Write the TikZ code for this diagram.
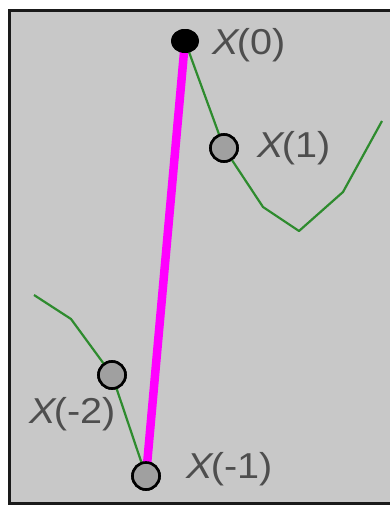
\documentclass[tikz,border=0pt]{standalone}
\usepackage{fontspec}
\setmainfont{Liberation Sans}
\newfontfamily\lblfont[FakeStretch=1.1]{Liberation Sans}
\usetikzlibrary{shapes.geometric}
\definecolor{bggray}{HTML}{C8C8C8}
\definecolor{framegray}{HTML}{1A1A1A}
\definecolor{pathgreen}{HTML}{2E8B2E}
\definecolor{labelgray}{HTML}{4E4E4E}
\definecolor{dotgray}{HTML}{A0A0A0}
\definecolor{puremagenta}{RGB}{255,0,255}
\begin{document}
\begin{tikzpicture}[x=1pt,y=-1pt,
  dotnode/.style={circle,draw=black,line width=2.6pt,fill=dotgray,minimum size=27pt,inner sep=0pt},
  blacknode/.style={ellipse,fill=black,minimum width=28pt,minimum height=24pt,inner sep=0pt},
  lbl/.style={text=labelgray,font=\lblfont\fontsize{36}{36}\selectfont,inner sep=0pt,anchor=west},
  greenpath/.style={draw=pathgreen,line width=2.2pt,line join=round},
  pinkline/.style={draw=puremagenta,line width=8.5pt}]
\useasboundingbox (0,0) rectangle (390,506);
\fill[white] (0,0) rectangle (390,506);
\fill[bggray] (10,10) rectangle (392,504);
\draw[framegray,line width=3pt] (392,10.5) -- (9.5,10.5) -- (9.5,503.5) -- (392,503.5);
% coordinates of path vertices
\coordinate (g1) at (263,207);
\coordinate (g2) at (299,231);
\coordinate (g3) at (343,192);
\coordinate (g4) at (382,121);
\coordinate (h1) at (34,295);
\coordinate (h2) at (71,319);
% nodes
\node[blacknode] (x0) at (185,41) {};
\node[dotnode] (x1) at (224,148) {};
\node[dotnode] (xm2) at (112,375) {};
\node[dotnode] (xm1) at (146,476) {};
% green paths
\draw[greenpath] (x0.center) -- (x1.center) -- (g1) -- (g2) -- (g3) -- (g4);
\draw[greenpath] (h1) -- (h2) -- (xm2.center) -- (xm1.center);
% magenta line
\draw[pinkline] (x0.center) -- (xm1.center);
% redraw nodes on top
\node[blacknode] at (x0) {};
\node[dotnode] at (x1) {};
\node[dotnode] at (xm2) {};
\node[dotnode] at (xm1) {};
% labels
\node[lbl] (l0) at (212,45) {\textit{X}\kern-3pt(0)};
\node[lbl] (l1) at (257,148) {\textit{X}\kern-3pt(1)};
\node[lbl] (lm2) at (29,414) {\textit{X}\kern-3pt(-2)};
\node[lbl] (lm1) at (186,469) {\textit{X}\kern-3pt(-1)};
\end{tikzpicture}
\end{document}
